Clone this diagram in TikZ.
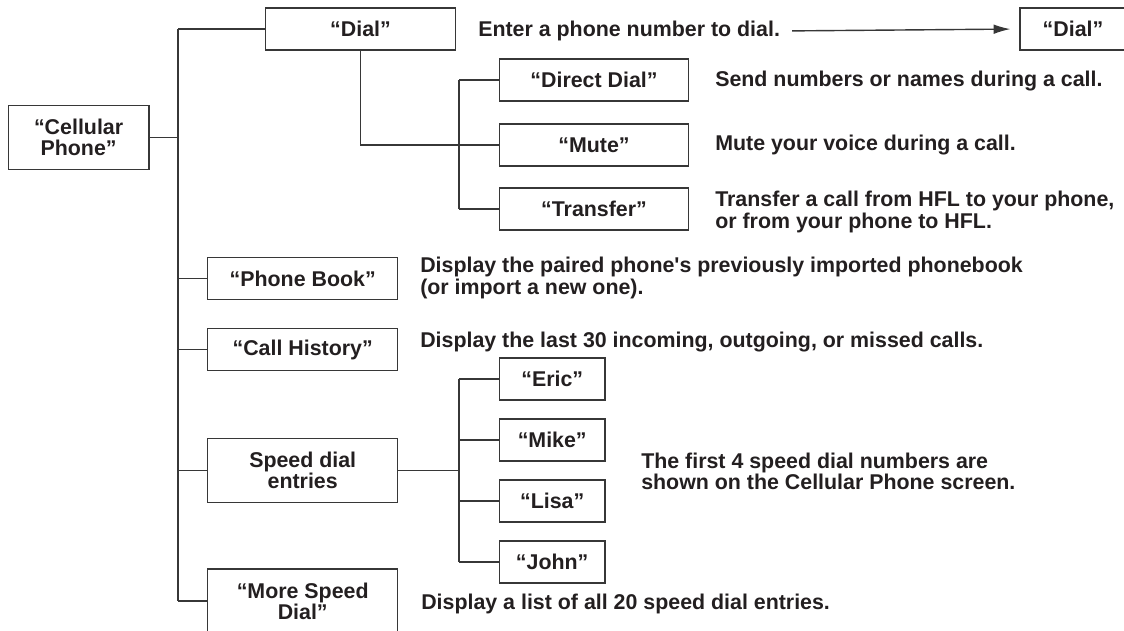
\documentclass[tikz,border=0pt]{standalone}
\usepackage{fontspec}
\setmainfont{Liberation Sans}
\usepackage{xcolor}
\usepackage{tikz}
\usetikzlibrary{calc,arrows.meta,positioning}
\definecolor{menuInk}{RGB}{35,31,32}
\definecolor{menuLine}{RGB}{55,55,55}

\begin{document}
\begin{tikzpicture}[x=0.025cm, y=-0.025cm,
  every node/.style={font=\bfseries\fontsize{15.2}{15}\selectfont, text=menuInk},
  menubox/.style={draw=menuLine, line width=0.75pt, align=center, inner sep=0pt, minimum height=1.05cm},
  wide/.style={minimum width=4.74cm},
  namebox/.style={minimum width=2.64cm},
  note/.style={anchor=west, align=left, inner sep=0pt},
  link/.style={draw=menuLine, line width=0.75pt}]
\useasboundingbox (0,0) rectangle (1124,631);
\coordinate (trunk) at (178,0);
\coordinate (subtrunk) at (459,0);
\node[menubox, minimum width=3.52cm, minimum height=1.58cm] (cell) at (78.6,137.5) {“Cellular\\ Phone”};
\node[menubox, wide] (dial) at (360.5,29) {“Dial”};
\node[menubox, minimum width=2.65cm] (dialout) at (1073,29) {“Dial”};
\node[menubox, wide] (ddial) at (594,80) {“Direct Dial”};
\node[menubox, wide] (mute) at (594,145) {“Mute”};
\node[menubox, wide] (xfer) at (594,209) {“Transfer”};
\node[menubox, wide] (book) at (302.7,278.5) {“Phone Book”};
\node[menubox, wide] (hist) at (302.7,349.5) {“Call History”};
\node[menubox, wide, minimum height=1.58cm] (speed) at (302.7,470.5) {Speed dial\\ entries};
\node[menubox, wide, minimum height=1.6cm] (more) at (302.7,601) {“More Speed\\ Dial”};
\node[menubox, namebox] (eric) at (552.2,379) {“Eric”};
\node[menubox, namebox] (mike) at (552.2,440) {“Mike”};
\node[menubox, namebox] (lisa) at (552.2,501) {“Lisa”};
\node[menubox, namebox] (john) at (552.2,562) {“John”};
\node[note] (enter) at (478,31) {Enter a phone number to dial.};
\node[note] (sendnote) at (715,81) {Send numbers or names during a call.};
\node[note] (mutenote) at (715,145) {Mute your voice during a call.};
\node[note] (xfernote) at (715,212) {Transfer a call from HFL to your phone,\\ or from your phone to HFL.};
\node[note] (booknote) at (420,278) {Display the paired phone\textquotesingle s previously imported phonebook\\ (or import a new one).};
\node[note] (histnote) at (420,342) {Display the last 30 incoming, outgoing, or missed calls.};
\node[note] (firstnote) at (641,471) {The first 4 speed dial numbers are\\ shown on the Cellular Phone screen.};
\node[note] (morenote) at (421,604) {Display a list of all 20 speed dial entries.};
\draw[link] (cell.east) -- (cell.east -| trunk);
\draw[link] (dial.west -| trunk) -- (more.west -| trunk);
\foreach \n in {dial,book,hist,speed,more}
  \draw[link] (\n.west -| trunk) -- (\n.west);
\draw[link] (dial.south) |- (mute.west);
\draw[link] (ddial.west -| subtrunk) -- (xfer.west -| subtrunk);
\foreach \n in {ddial,xfer}
  \draw[link] (\n.west -| subtrunk) -- (\n.west);
\draw[link] (speed.east) -- (speed.east -| subtrunk);
\draw[link] (eric.west -| subtrunk) -- (john.west -| subtrunk);
\foreach \n in {eric,mike,lisa,john}
  \draw[link] (\n.west -| subtrunk) -- (\n.west);
\draw[link, line width=1pt, -{Latex[length=4.2mm,width=2.4mm]}, shorten <=8.5pt, shorten >=6.4pt] (enter.east) -- (dialout.west);
\end{tikzpicture}
\end{document}
